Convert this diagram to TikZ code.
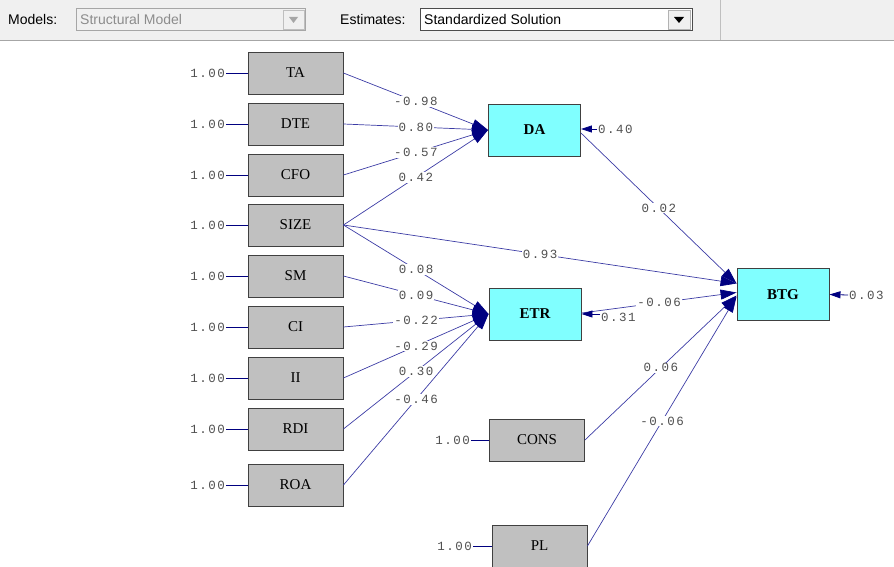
\documentclass[tikz,border=0pt]{standalone}
\usepackage{fontspec}
\setmainfont{Liberation Serif}
\setsansfont{Liberation Sans}
\newfontfamily\estfont{Liberation Mono}[LetterSpace=12]
\usetikzlibrary{arrows.meta}

\definecolor{boxgray}{RGB}{192,192,192}
\definecolor{boxcyan}{RGB}{128,255,255}
\definecolor{pathblue}{RGB}{60,60,165}
\definecolor{headblue}{RGB}{0,0,128}
\definecolor{lblgray}{RGB}{80,80,80}
\definecolor{barbg}{RGB}{240,240,240}

\begin{document}
\begin{tikzpicture}[x=1pt,y=-1pt]
\tikzstyle{obs} = [rectangle, draw=black!75, line width=0.9pt, fill=boxgray, minimum width=95pt, minimum height=42pt, font=\fontsize{15}{18}\selectfont]
\tikzstyle{lat} = [obs, fill=boxcyan, minimum width=92pt, minimum height=52pt, font=\fontsize{15}{18}\selectfont\bfseries]
\tikzstyle{coef} = [font=\estfont\fontsize{12.5}{14}\selectfont, text=lblgray, inner sep=1pt]
\tikzstyle{onpath} = [coef, fill=white, pos=0.5]
\tikzstyle{path} = [draw=pathblue, line width=0.7pt, -{Triangle[length=16pt, width=10pt, color=headblue]}]
\tikzstyle{err} = [draw=headblue, line width=0.8pt, -{Triangle[length=11pt, width=7pt, color=headblue]}]
\tikzstyle{fix} = [draw=headblue, line width=0.8pt]
\tikzstyle{bar} = [font=\sffamily\fontsize{14}{16}\selectfont, inner sep=0pt]
\useasboundingbox (0,0) rectangle (894,567);

% toolbar
\fill[barbg] (0,0) rectangle (894,40);
\draw[black!35] (0,40.5) -- (894,40.5);
\draw[black!25] (720.5,0) -- (720.5,40);
\node[bar, anchor=west] (mlab) at (8,19.5) {Models:};
\node[draw=black!35, fill=barbg, minimum width=229pt, minimum height=22pt, anchor=west, inner sep=0pt] (mbox) at (76,19.5) {};
\node[bar, anchor=west, text=black!45] (mtxt) at (80,19.5) {Structural Model};
\draw[black!25] (283,10) rectangle (304,29);
\fill[black!35] (289,17) -- (298,17) -- (293.5,23) -- cycle;
\node[bar, anchor=west] (elab) at (340,19.5) {Estimates:};
\node[draw=black!70, fill=white, minimum width=272pt, minimum height=22pt, anchor=west, inner sep=0pt] (ebox) at (420,19.5) {};
\node[bar, anchor=west] (etxt) at (424,19.5) {Standardized Solution};
\draw[black!30, fill=barbg] (668,10) rectangle (690,29);
\fill[black] (674,17) -- (684,17) -- (679,23) -- cycle;

% observed variables
\node[obs] (TA) at (295.5,73) {TA};
\node[obs] (DTE) at (295.5,124) {DTE};
\node[obs] (CFO) at (295.5,175) {CFO};
\node[obs] (SIZE) at (295.5,225) {SIZE};
\node[obs] (SM) at (295.5,276) {SM};
\node[obs] (CI) at (295.5,327) {CI};
\node[obs] (II) at (295.5,378) {II};
\node[obs] (RDI) at (295.5,429) {RDI};
\node[obs] (ROA) at (295.5,485) {ROA};
\node[obs] (CONS) at (537,440) {CONS};
\node[obs] (PL) at (539.5,546) {PL};

% latent variables
\node[lat] (DA) at (534.5,130) {DA};
\node[lat] (ETR) at (535,314) {ETR};
\node[lat] (BTG) at (783,294.5) {BTG};

% fixed variances
\foreach \v in {TA,DTE,CFO,SIZE,SM,CI,II,RDI,ROA} {
  \node[coef, anchor=east] (v\v) at (226,0 |- \v) {1.00};
  \draw[fix] (v\v) -- (\v);
}
\node[coef, anchor=east] (vCONS) at (471,0 |- CONS) {1.00};
\draw[fix] (vCONS) -- (CONS);
\node[coef, anchor=east] (vPL) at (473,0 |- PL) {1.00};
\draw[fix] (vPL) -- (PL);

% paths to DA
\draw[path] (TA.east) -- node[onpath]{-0.98} (DA.west);
\draw[path] (DTE.east) -- node[onpath]{0.80} (DA.west);
\draw[path] (CFO.east) -- node[onpath]{-0.57} (DA.west);
\draw[path] (SIZE.east) -- node[onpath]{0.42} (DA.west);

% paths to ETR
\draw[path] (SIZE.east) -- node[onpath]{0.08} (ETR.west);
\draw[path] (SM.east) -- node[onpath]{0.09} (ETR.west);
\draw[path] (CI.east) -- node[onpath]{-0.22} (ETR.west);
\draw[path] (II.east) -- node[onpath]{-0.29} (ETR.west);
\draw[path] (RDI.east) -- node[onpath]{0.30} (ETR.west);
\draw[path] (ROA.east) -- node[onpath]{-0.46} (ETR.west);

% paths to BTG
\draw[path] (SIZE.east) -- node[onpath]{0.93} ([yshift=11pt]BTG.west);
\draw[path] ([yshift=-3pt]DA.east) -- node[onpath]{0.02} ([yshift=11pt]BTG.west);
\draw[path] ([yshift=1pt]ETR.east) -- node[onpath]{-0.06} ([yshift=2pt]BTG.west);
\draw[path] (CONS.east) -- node[onpath]{0.06} ([yshift=-1pt]BTG.west);
\draw[path] (PL.east) -- node[onpath]{-0.06} ([yshift=-2pt]BTG.west);

% error variances
\node[coef, anchor=west] (eDA) at (597,129) {0.40};
\draw[err] (eDA.west) -- ([yshift=1pt]DA.east);
\node[coef, anchor=west] (eETR) at (600,317) {0.31};
\draw[err] ([yshift=3pt]eETR.west) -- (ETR.east);
\node[coef, anchor=west] (eBTG) at (848,295) {0.03};
\draw[err] (eBTG.west) -- (BTG.east);
\end{tikzpicture}
\end{document}
